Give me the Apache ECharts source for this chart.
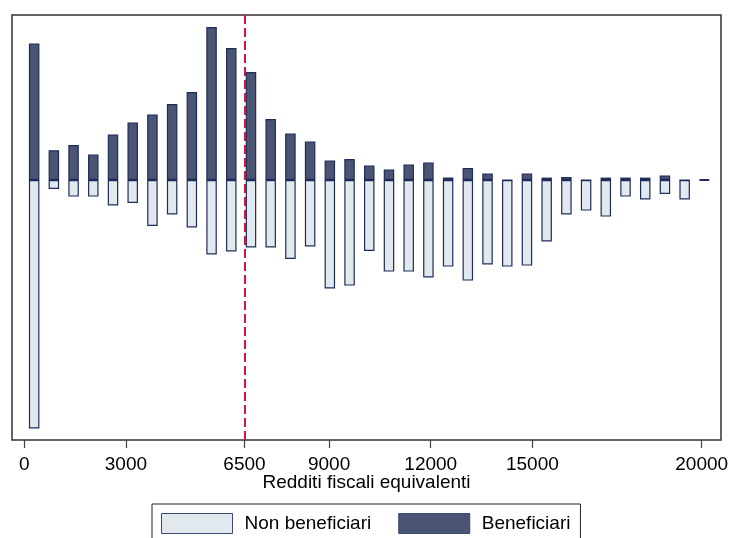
<!DOCTYPE html>
<html>
<head>
<meta charset="utf-8">
<script src="https://cdn.jsdelivr.net/npm/echarts@6/dist/echarts.min.js"></script>
<style>
  html, body { margin: 0; padding: 0; background: #fff; }
  #chart { width: 730px; height: 538px; }
</style>
</head>
<body>
<div id="chart"></div>
<script>
// Income class mid-points (euro) of each bar
const binMid = [291, 873, 1455, 2037, 2619, 3201, 3783, 4365, 4947, 5529,
  6111, 6693, 7275, 7857, 8439, 9021, 9603, 10185, 10767, 11349,
  11931, 12513, 13095, 13677, 14259, 14841, 15423, 16005, 16587, 17169,
  17751, 18333, 18915, 19497, 20079];

// Share of households per class (beneficiaries above, non-beneficiaries below zero)
const beneficiari = [6.82, 1.49, 1.75, 1.28, 2.28, 2.88, 3.28, 3.80, 4.40, 7.65,
  6.60, 5.40, 3.05, 2.33, 1.93, 0.98, 1.05, 0.72, 0.53, 0.78,
  0.87, 0.13, 0.60, 0.33, 0.00, 0.33, 0.12, 0.15, 0.00, 0.12,
  0.12, 0.12, 0.23, 0.00, 0.03];
const nonBeneficiari = [-12.42, -0.45, -0.83, -0.83, -1.27, -1.15, -2.30, -1.72, -2.37, -3.72,
  -3.57, -3.37, -3.37, -3.95, -3.32, -5.42, -5.28, -3.55, -4.58, -4.58,
  -4.87, -4.33, -5.03, -4.22, -4.33, -4.28, -3.07, -1.72, -1.53, -1.83,
  -0.83, -0.97, -0.70, -0.97, -0.05];

const xTicks = [0, 3000, 6500, 9000, 12000, 15000, 20000];
const threshold = 6500;

const FONT = '"Liberation Sans", Arial, Helvetica, sans-serif';
const DARK = '#4a5473';
const LIGHT = '#e1e9ef';
const EDGE = '#1e2c5a';

const chart = echarts.init(document.getElementById('chart'), null, { renderer: 'canvas' });

chart.setOption({
  animation: false,
  backgroundColor: '#ffffff',
  textStyle: { fontFamily: FONT },
  grid: {
    left: 12, top: 15, width: 709, height: 425,
    outerBoundsMode: 'none',
    containLabel: false,
    show: true, borderColor: '#333333', borderWidth: 1.5,
    backgroundColor: '#ffffff'
  },
  xAxis: {
    type: 'value',
    min: -363, max: 20570,
    name: 'Redditi fiscali equivalenti',
    nameLocation: 'middle',
    nameGap: 33,
    nameMoveOverlap: false,
    nameTextStyle: { fontFamily: FONT, fontSize: 19, color: '#000' },
    axisLine: { show: false, onZero: false },
    splitLine: { show: false },
    axisTick: {
      show: true, inside: false, length: 8,
      customValues: xTicks,
      lineStyle: { color: '#444444', width: 1.2 }
    },
    axisLabel: {
      customValues: xTicks,
      margin: 15,
      formatter: v => String(v),
      fontFamily: FONT, fontSize: 19, color: '#000'
    }
  },
  yAxis: {
    type: 'value',
    min: -13.0, max: 8.25,
    axisLine: { show: false },
    axisTick: { show: false },
    axisLabel: { show: false },
    splitLine: { show: false }
  },
  legend: {
    left: 152, top: 504,
    orient: 'horizontal',
    itemWidth: 71, itemHeight: 20, itemGap: 27,
    padding: [9, 10, 12, 9],
    borderColor: '#222222', borderWidth: 1,
    backgroundColor: '#ffffff',
    icon: 'rect',
    textStyle: { fontFamily: FONT, fontSize: 19, color: '#000', padding: [0, 0, 0, 7] },
    data: [
      { name: 'Non beneficiari', itemStyle: { color: LIGHT, borderColor: '#3a4a72', borderWidth: 1 } },
      { name: 'Beneficiari', itemStyle: { color: DARK, borderColor: '#3a4a72', borderWidth: 1 } }
    ]
  },
  series: [
    {
      name: 'Beneficiari',
      type: 'bar',
      barWidth: 10.5,
      barGap: '-100%',
      itemStyle: { color: DARK, borderColor: EDGE, borderWidth: 1.2 },
      data: binMid.map((x, i) => [x, beneficiari[i]]),
      markLine: {
        silent: true,
        symbol: 'none',
        label: { show: false },
        lineStyle: { color: '#d4163c', type: [9, 4], width: 2 },
        data: [{ xAxis: threshold }]
      }
    },
    {
      name: 'Non beneficiari',
      type: 'bar',
      barWidth: 10.5,
      barGap: '-100%',
      itemStyle: { color: LIGHT, borderColor: EDGE, borderWidth: 1.2 },
      data: binMid.map((x, i) => [x, nonBeneficiari[i]])
    }
  ]
});
</script>
</body>
</html>
